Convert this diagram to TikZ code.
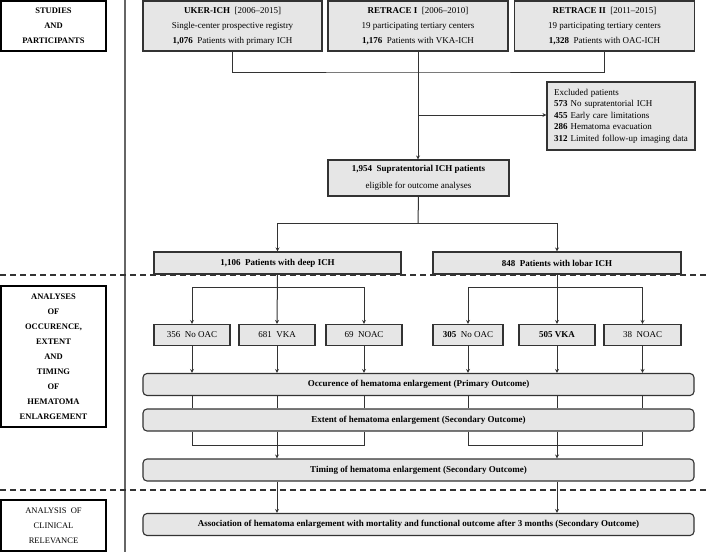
\documentclass[tikz,border=0pt]{standalone}
\usepackage{fontspec}
\setmainfont{Liberation Serif}
\usetikzlibrary{arrows.meta}
\definecolor{boxfill}{HTML}{E6E6E6}
\definecolor{boxline}{HTML}{333333}
\begin{document}
\begin{tikzpicture}[x=1pt,y=-1pt,
  boxbase/.style={draw=boxline, line width=1.1pt, fill=boxfill, inner sep=0pt, align=center, font=\fontsize{9}{15}\selectfont},
  roundbox/.style={boxbase, rounded corners=4pt, minimum width=551pt, minimum height=22pt, font=\fontsize{9}{15}\selectfont\bfseries},
  smallbox/.style={boxbase, minimum height=21pt},
  sidebox/.style={draw=black, line width=1.4pt, fill=white, inner sep=0pt, align=center, minimum width=105pt, font=\fontsize{8.5}{15}\selectfont\bfseries},
  conn/.style={draw=boxline, line width=1pt},
  arr/.style={conn, -{Stealth[length=4pt,width=4pt]}},
  vline/.style={draw=black!60, line width=1.6pt},
  divider/.style={draw=boxline, line width=1.1pt, dash pattern=on 6pt off 4pt}
]
\useasboundingbox (0,0) rectangle (709,552);

% separators
\draw[vline] (125,0) -- (125,552);
\draw[divider] (0,275) -- (709,275);
\draw[divider] (0,490) -- (709,490);

% side labels
\node[sidebox, minimum height=50pt] (lab1) at (53.5,26) {STUDIES\\AND\\PARTICIPANTS};
\node[sidebox, minimum height=141pt] (lab2) at (53.5,356.5) {ANALYSES\\OF\\OCCURENCE,\\EXTENT\\AND\\TIMING\\OF\\HEMATOMA\\ENLARGEMENT};
\node[sidebox, minimum height=51pt, font=\fontsize{8.5}{15}\selectfont] (lab3) at (53.5,525.5) {ANALYSIS\enspace OF\\CLINICAL\\RELEVANCE};

% studies
\node[boxbase, minimum width=179pt, minimum height=50pt] (uker) at (232.5,26)
  {\textbf{UKER-ICH}\enspace[2006–2015]\\Single-center prospective registry\\\textbf{1,076}\enspace Patients with primary ICH};
\node[boxbase, minimum width=180pt, minimum height=50pt] (r1) at (418,26)
  {\textbf{RETRACE I}\enspace[2006–2010]\\19 participating tertiary centers\\\textbf{1,176}\enspace Patients with VKA-ICH};
\node[boxbase, minimum width=180pt, minimum height=50pt] (r2) at (604.5,26)
  {\textbf{RETRACE II}\enspace[2011–2015]\\19 participating tertiary centers\\\textbf{1,328}\enspace Patients with OAC-ICH};

\node[boxbase, align=left, text width=134pt, inner xsep=7pt, minimum height=68pt, font=\fontsize{9}{11.5}\selectfont] (excl) at (621,116)
  {Excluded patients\\\textbf{573} No supratentorial ICH\\\textbf{455} Early care limitations\\\textbf{286} Hematoma evacuation\\\textbf{312} Limited follow-up imaging data};

\node[boxbase, minimum width=181pt, minimum height=36pt, font=\fontsize{9}{17}\selectfont] (n1954) at (418.5,178)
  {\textbf{1,954\enspace Supratentorial ICH patients}\\eligible for outcome analyses};

\node[boxbase, minimum width=247pt, minimum height=22pt] (deep) at (277.5,263) {\textbf{1,106\enspace Patients with deep ICH}};
\node[boxbase, minimum width=248pt, minimum height=22pt] (lobar) at (557,263) {\textbf{848\enspace Patients with lobar ICH}};

% anticoagulation groups
\node[smallbox, minimum width=76pt] (a1) at (192,335) {356\enspace No OAC};
\node[smallbox, minimum width=76pt] (a2) at (277,335) {681\enspace VKA};
\node[smallbox, minimum width=76pt] (a3) at (364,335) {69\enspace NOAC};
\node[smallbox, minimum width=70pt] (b1) at (468,335) {\textbf{305}\enspace No OAC};
\node[smallbox, minimum width=76pt] (b2) at (557,335) {\textbf{505 VKA}};
\node[smallbox, minimum width=77pt] (b3) at (642.5,335) {38\enspace NOAC};

% outcome boxes
\node[roundbox] (occ) at (418.5,384.5) {Occurence of hematoma enlargement (Primary Outcome)};
\node[roundbox] (ext) at (418.5,420) {Extent of hematoma enlargement (Secondary Outcome)};
\node[roundbox] (tim) at (418.5,470) {Timing of hematoma enlargement (Secondary Outcome)};
\node[roundbox] (assoc) at (418.5,524.5) {Association of hematoma enlargement with mortality and functional outcome after 3 months (Secondary Outcome)};

% connectors top
\coordinate (join) at (418,72);
\draw[conn] (uker.south) |- (join) -| (r2.south);
\draw[arr] (r1.south) -- (r1.south |- n1954.north);
\coordinate (ex) at (418,115);
\draw[arr] (ex) -- (ex -| excl.west);
\coordinate (s1) at (418,223);
\draw[conn] (n1954.south) -- (s1);
\draw[arr] (s1) -| (deep.north);
\draw[arr] (s1) -| (lobar.north);

% deep / lobar to groups
\coordinate (sd) at (277,287);
\coordinate (sl) at (557,287);
\draw[arr] (deep.south) -- (a2.north);
\draw[arr] (sd) -| (a1.north);
\draw[arr] (sd) -| (a3.north);
\draw[arr] (lobar.south) -- (b2.north);
\draw[arr] (sl) -| (b1.north);
\draw[arr] (sl) -| (b3.north);

% groups to occurrence, occurrence to extent
\foreach \g in {a1,a2,a3,b1,b2,b3}{
  \draw[arr] (\g.south) -- (\g.south |- occ.north);
  \draw[conn] (\g.south |- occ.south) -- (\g.south |- ext.north);
}

% extent to timing
\draw[conn] (a1.south |- ext.south) -- (a1.south |- 0,445) -| (a3.south |- ext.south);
\draw[arr] (a2.south |- ext.south) -- (a2.south |- tim.north);
\draw[conn] (b1.south |- ext.south) -- (b1.south |- 0,445) -| (b3.south |- ext.south);
\draw[arr] (b2.south |- ext.south) -- (b2.south |- tim.north);

% timing to association
\draw[arr] (a2.south |- tim.south) -- (a2.south |- assoc.north);
\draw[arr] (b2.south |- tim.south) -- (b2.south |- assoc.north);
\end{tikzpicture}
\end{document}
